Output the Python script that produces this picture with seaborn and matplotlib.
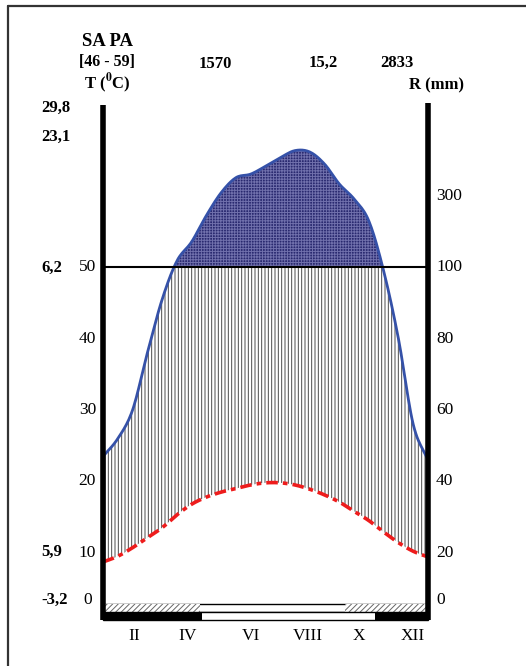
import numpy as np
import matplotlib
matplotlib.use("Agg")
import matplotlib.pyplot as plt
import seaborn as sns

# half-month sample positions (0 = Jan ... 11 = Dec)
months = [i * 0.5 for i in range(23)]
# mean temperature (degC)
temp_c = [8.7, 9.5, 10.7, 12.1, 13.5, 15.3, 16.8, 17.8, 18.5, 19.0, 19.5, 19.8,
          19.8, 19.5, 18.9, 18.1, 17.1, 15.8, 14.5, 12.9, 11.4, 10.2, 9.4]
# rainfall (mm)
rain_mm = [47, 52, 60, 76, 91, 118, 172, 246, 310, 352, 362, 384,
           408, 428, 424, 390, 334, 292, 230, 99, 80, 56, 46]

station = "SA PA"
period = "[46 - 59]"
altitude = "1570"
mean_temp = "15,2"
total_rain = "2833"
extremes = ["29,8", "23,1", "6,2", "5,9", "-3,2"]
extreme_levels = [108, 137, 268, 552, 600]          # pixel rows of the labels
left_ticks = [0, 10, 20, 30, 40, 50]
right_ticks = [0, 20, 40, 60, 80, 100, 300]
roman = ["II", "IV", "VI", "VIII", "X", "XII"]
roman_pos = [1.07, 2.86, 5.01, 6.92, 8.66, 10.49]
# frost bars: (start, end) month positions of the hatched / black parts
frost_abs = [(0, 3.28), (8.19, 11)]
frost_mean = [(0, 3.35), (9.2, 11)]

W, H = 526, 666


def px_x(px):
    return (px - 103) / 29.545


def px_y(py):
    return (624 - py) / 7.13


def rain_scale(r):
    r = np.asarray(r, dtype=float)
    return np.where(r <= 100, r / 2, 50 + (r - 100) / 20)


def smooth(x, y, n=12):
    # Catmull-Rom spline through the points
    x = np.asarray(x, float)
    y = np.asarray(y, float)
    px = np.concatenate([[2 * x[0] - x[1]], x, [2 * x[-1] - x[-2]]])
    py = np.concatenate([[2 * y[0] - y[1]], y, [2 * y[-1] - y[-2]]])
    xs, ys = [], []
    t = np.linspace(0, 1, n, endpoint=False)
    for i in range(1, len(px) - 2):
        for arr, out in ((px, xs), (py, ys)):
            p0, p1, p2, p3 = arr[i - 1], arr[i], arr[i + 1], arr[i + 2]
            out.append(0.5 * (2 * p1 + (-p0 + p2) * t + (2 * p0 - 5 * p1 + 4 * p2 - p3) * t ** 2
                              + (-p0 + 3 * p1 - 3 * p2 + p3) * t ** 3))
    xs.append([x[-1]])
    ys.append([y[-1]])
    return np.concatenate(xs), np.concatenate(ys)


sns.set_theme(style="white")
plt.rcParams["font.family"] = ["Liberation Serif", "DejaVu Serif"]
plt.rcParams["mathtext.fontset"] = "stix"
plt.rcParams["hatch.linewidth"] = 0.7
plt.rcParams["text.color"] = "black"

fig = plt.figure(figsize=(W / 100, H / 100), dpi=100)
ax = fig.add_axes([0, 0, 1, 1])
ax.set_xlim(px_x(0), px_x(W))
ax.set_ylim(px_y(H), px_y(0))
ax.axis("off")

xt, yt = smooth(months, temp_c)
xr, yr = smooth(months, rain_scale(rain_mm))

# humid period: vertical hatching between temperature and rain (capped at 100 mm)
ax.fill_between(xr, yt, np.minimum(yr, 50), facecolor="none", edgecolor="#4a4a4a",
                hatch="|||||", linewidth=0)
# very humid period (> 100 mm)
ax.fill_between(xr, 50, yr, where=yr > 50, interpolate=True, facecolor="#2a2a70",
                edgecolor="#7070ac", hatch="++++++", linewidth=0)

ax.plot(xr, yr, color="#3551a8", lw=2)
ax.plot(xt, yt, color="#ee1c1c", lw=2.6, dashes=(3.2, 1.4, 1.3, 1.4))
ax.plot([0, 11], [50, 50], color="black", lw=1.5)

# frost bars
y_top, y_mid, y_bot = px_y(604), px_y(612), px_y(620)
ax.barh((y_top + y_mid) / 2, 11, left=0, height=y_top - y_mid, color="white",
        edgecolor="black", lw=1)
for a, b in frost_abs:
    ax.barh((y_top + y_mid) / 2, b - a, left=a, height=y_top - y_mid, color="white",
            edgecolor="#666666", hatch="//////", lw=0)
ax.barh((y_mid + y_bot) / 2, 11, left=0, height=y_mid - y_bot, color="white",
        edgecolor="black", lw=1)
for a, b in frost_mean:
    ax.barh((y_mid + y_bot) / 2, b - a, left=a, height=y_mid - y_bot, color="black", lw=0)

# axes
ax.plot([0, 0], [px_y(620), px_y(105)], color="black", lw=4, solid_capstyle="butt")
ax.plot([11, 11], [px_y(620), px_y(103)], color="black", lw=4, solid_capstyle="butt")

# tick labels
for v in left_ticks:
    py = 600 if v == 0 else 624 - v * 7.13
    ax.text(px_x(96 if v else 92), px_y(py), str(v), ha="right", va="center", fontsize=12.5)
for v in right_ticks:
    py = 600 if v == 0 else 624 - float(rain_scale(v)) * 7.13
    ax.text(px_x(436), px_y(py), str(v), ha="left", va="center", fontsize=12.5)
for lab, yy in zip(extremes, extreme_levels):
    ax.text(px_x(41), px_y(yy), lab, ha="left", va="center", fontsize=12, fontweight="bold")
for lab, m in zip(roman, roman_pos):
    ax.text(m, px_y(636), lab, ha="center", va="center", fontsize=12.5)

ax.text(px_x(108), px_y(42), station, ha="center", va="center", fontsize=13.5, fontweight="bold")
ax.text(px_x(107), px_y(62), period, ha="center", va="center", fontsize=11.5, fontweight="bold")
ax.text(px_x(107), px_y(83), r"T ($^{\mathbf{0}}$C)", ha="center", va="center",
        fontsize=12, fontweight="bold")
ax.text(px_x(215), px_y(64), altitude, ha="center", va="center", fontsize=12, fontweight="bold")
ax.text(px_x(323), px_y(63), mean_temp, ha="center", va="center", fontsize=12, fontweight="bold")
ax.text(px_x(397), px_y(63), total_rain, ha="center", va="center", fontsize=12, fontweight="bold")
ax.text(px_x(437), px_y(85), "R (mm)", ha="center", va="center", fontsize=12, fontweight="bold")

# outer frame (top and left edges)
fig.add_artist(plt.Line2D([8 / W, 1], [1 - 6 / H, 1 - 6 / H], color="#333333", lw=1.6))
fig.add_artist(plt.Line2D([8 / W, 8 / W], [0, 1 - 6 / H], color="#333333", lw=1.6))

fig.savefig("out.png", dpi=100)
